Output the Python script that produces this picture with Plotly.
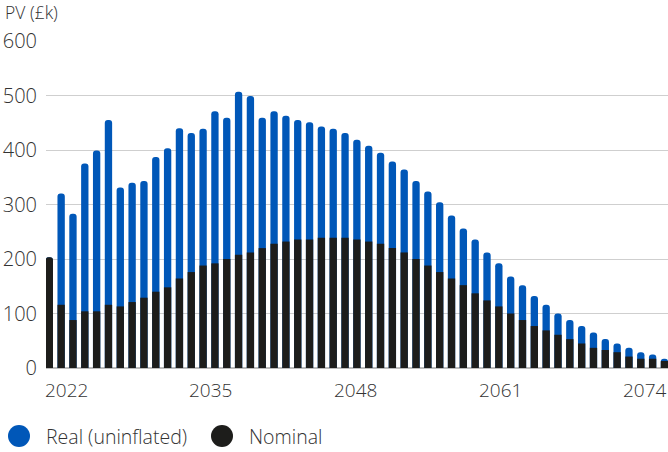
import plotly.graph_objects as go

years = list(range(2022, 2075))
real = [203, 320, 283, 375, 399, 455, 331, 340, 343, 387, 403, 440, 431, 439, 471,
        459, 507, 499, 459, 471, 463, 455, 451, 443, 439, 431, 419, 408, 395, 379,
        364, 343, 324, 304, 280, 256, 236, 212, 192, 168, 152, 132, 116, 100, 88,
        77, 65, 53, 45, 37, 29, 25, 17]
nominal = [203, 116, 88, 104, 104, 116, 113, 121, 129, 140, 148, 164, 176, 188, 192,
           200, 208, 212, 220, 228, 232, 236, 236, 239, 239, 239, 236, 232, 228, 220,
           212, 200, 188, 176, 164, 152, 137, 124, 113, 100, 88, 77, 69, 61, 53,
           45, 37, 33, 29, 21, 17, 17, 13]
y_ticks = [0, 100, 200, 300, 400, 500, 600]
x_labels = ["2022", "2035", "2048", "2061", "2074"]
series_names = ["Real (uninflated)", "Nominal"]
colors = ["#0057b8", "#1d1d1b"]

FONT = "Open Sans"
WEIGHT = 300
TXT = "#333333"
W, H = 668, 452
ML, MR, MT, MB = 46, 0, 41, 84
PW = W - ML - MR
PH = H - MT - MB

def f(size):
    return dict(family=FONT, size=size, color=TXT, weight=WEIGHT)

fig = go.Figure()
fig.add_trace(go.Bar(x=years, y=real, name=series_names[0], marker_color=colors[0],
                     marker_line_width=0, marker_cornerradius="50%", showlegend=False))
fig.add_trace(go.Bar(x=years, y=nominal, name=series_names[1], marker_color=colors[1],
                     marker_line_width=0, marker_cornerradius="50%", showlegend=False))

annotations = []
# y-axis title
annotations.append(dict(text="PV (£k)", xref="paper", yref="paper", x=0, y=1,
                        xanchor="left", yanchor="middle", xshift=-43, yshift=29,
                        showarrow=False, font=f(17.5)))
# x tick labels spread evenly across the plot width (first/last kept inside)
n = len(x_labels)
lab_w = 44
for i, lab in enumerate(x_labels):
    cx = lab_w / 2 - 2 + i * (PW + 1 - lab_w) / (n - 1)
    annotations.append(dict(text=lab, xref="paper", yref="paper", x=cx / PW, y=0,
                            xanchor="center", yanchor="top", yshift=-7,
                            showarrow=False, font=f(19)))

# legend (circle + label)
shapes = []
leg_y = -(436 - (MT + PH)) / PH
leg_items = [(19, 44), (222, 247)]
for (cx, tx), name, col in zip(leg_items, series_names, colors):
    shapes.append(dict(type="circle", xref="paper", yref="paper",
                       xsizemode="pixel", ysizemode="pixel",
                       xanchor=0, yanchor=leg_y,
                       x0=cx - ML - 11, x1=cx - ML + 11, y0=-11, y1=11,
                       fillcolor=col, line=dict(width=0)))
    annotations.append(dict(text=name, xref="paper", yref="paper",
                            x=(tx - ML) / PW, y=leg_y, xanchor="left", yanchor="middle",
                            showarrow=False, font=f(19.5)))

fig.update_layout(
    width=W, height=H,
    margin=dict(l=ML, r=MR, t=MT, b=MB, pad=0),
    paper_bgcolor="white", plot_bgcolor="white",
    barmode="overlay", bargap=0.38,
    showlegend=False,
    annotations=annotations, shapes=shapes,
    font=dict(family=FONT, color=TXT),
    xaxis=dict(range=[2021.72, 2074.3], showticklabels=False, showgrid=False,
               zeroline=False, showline=False, ticks="", fixedrange=True),
    yaxis=dict(range=[0, 600], tickvals=y_ticks, showgrid=True, gridcolor="#cfcfcf",
               gridwidth=1, zeroline=True, zerolinecolor="#bdbdbd", zerolinewidth=2,
               showline=False, ticks="outside", ticklen=4, tickcolor="rgba(0,0,0,0)",
               tickfont=f(20), fixedrange=True),
)

fig.write_html("out.html", config={"displayModeBar": False})
